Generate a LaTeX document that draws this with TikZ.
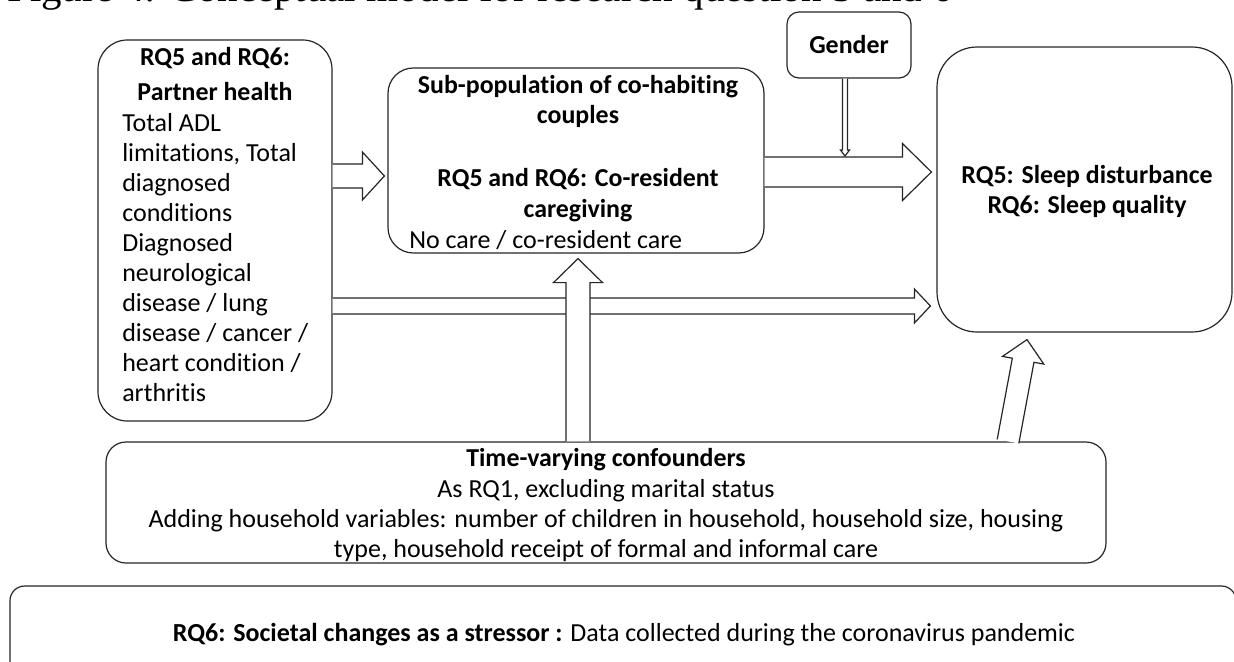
\documentclass[tikz,border=0pt]{standalone}
\usepackage{fontspec}
\setmainfont{Carlito}[Ligatures={TeX,NoCommon}]
\newfontfamily\titlefont{Liberation Serif}
\usetikzlibrary{calc}
\tikzset{
  box/.style={draw=black!85, line width=0.9pt, rounded corners=#1, fill=white, inner sep=0pt},
  box/.default=15pt,
  blk/.style={draw=black!85, line width=0.9pt, fill=white, line join=miter},
  txt/.style={inner sep=0pt, font=\fontsize{19.5}{23}\selectfont},
  btxt/.style={inner sep=0pt, font=\fontsize{19.4}{23}\selectfont\bfseries},
}
\newcommand\blockarrow[5]{%
  \coordinate (baH) at ($(#2)!#5!(#1)$);
  \filldraw[blk] ($(#1)!#3!90:(#2)$) -- ($(baH)!#3!90:(#2)$) -- ($(baH)!#4!90:(#2)$) -- (#2)
     -- ($(baH)!#4!-90:(#2)$) -- ($(baH)!#3!-90:(#2)$) -- ($(#1)!#3!-90:(#2)$);
}
\begin{document}
\begin{tikzpicture}[x=0.75pt,y=-0.75pt]
\useasboundingbox (0,0) rectangle (1234,661);
\clip (0,0) rectangle (1234,661);
\fill[white] (0,0) rectangle (1234,661);

% title, cut off at the top edge as in the reference
\node[anchor=base west, inner sep=0pt, font=\titlefont\fontsize{30.7}{34}\selectfont] (title) at (7,1)
  {Figure 4: Conceptual model for research question 5 and 6};

% boxes
\node[box=22pt, minimum width=175.5pt, minimum height=285.75pt] (partner) at (215,230.5) {};
\node[box=19pt, minimum width=282pt, minimum height=138.75pt] (subpop) at (576,160.5) {};
\node[box=9pt, minimum width=93pt, minimum height=49.5pt] (gender) at (849,45) {};
\node[box=30pt, minimum width=221.25pt, minimum height=213.75pt] (sleep) at (1084.5,189.5) {};
\node[box=15pt, minimum width=750pt, minimum height=90.75pt] (tv) at (606,502.5) {};
\node[box=11pt, minimum width=919.5pt, minimum height=85.5pt] (societal) at (623,643) {};

% helper coordinates
\coordinate (y176) at (0,176);
\coordinate (y172) at (0,172);
\coordinate (y306) at (0,306);
\coordinate (x578) at (578,0);
\coordinate (x1008) at (1008,0);
\coordinate (x1027) at (1027,0);
\coordinate (x845) at (845,0);
\coordinate (y156) at (0,156);

% arrows
\coordinate (a1s) at (partner.east |- y176);
\coordinate (a1e) at ($(subpop.west |- y176)+(-3,0)$);
\blockarrow{a1s}{a1e}{9pt}{18pt}{16.5pt}

\coordinate (a2s) at (subpop.east |- y172);
\coordinate (a2e) at ($(sleep.west |- y172)+(-5,0)$);
\blockarrow{a2s}{a2e}{11.25pt}{21.4pt}{21.75pt}

\coordinate (a3s) at (partner.east |- y306);
\coordinate (a3e) at ($(sleep.west |- y306)+(-6,0)$);
\blockarrow{a3s}{a3e}{6pt}{12.75pt}{12pt}

\coordinate (a4s) at (tv.north -| x578);
\coordinate (a4e) at ($(subpop.south -| x578)+(0,5)$);
\blockarrow{a4s}{a4e}{9pt}{18.4pt}{18pt}

\coordinate (a5s) at (tv.north -| x1008);
\coordinate (a5e) at ($(sleep.south -| x1027)+(0,7)$);
\blockarrow{a5s}{a5e}{8.25pt}{15.75pt}{15.75pt}

\coordinate (a6s) at (gender.south -| x845);
\coordinate (a6e) at (x845 |- y156);
\blockarrow{a6s}{a6e}{1.9pt}{3.4pt}{4.5pt}

% texts: partner health
\node[btxt, anchor=base] (ph1) at (215,65) {RQ5 and RQ6:};
\node[btxt, anchor=base] (ph2) at (215,100) {Partner health};
\foreach \t [count=\i from 0] in {Total ADL, {limitations, Total}, diagnosed, conditions, Diagnosed, neurological, {disease / lung}, {disease / cancer /}, {heart condition /}, arthritis}
  \node[txt, anchor=base west] (phl\i) at (122,131+30*\i) {\t};

% sub-population
\node[btxt, anchor=base] (sp1) at (578,93) {Sub-population of co-habiting};
\node[btxt, anchor=base] (sp2) at (578,123) {couples};
\node[btxt, anchor=base] (sp3) at (578,186) {RQ5 and RQ6: Co-resident};
\node[btxt, anchor=base] (sp4) at (578,217) {caregiving};
\node[txt, anchor=base west] (sp5) at (409,248) {No care / co-resident care};

% gender
\node[btxt, anchor=base] (gt) at (849,53) {Gender};

% sleep
\node[btxt, anchor=base] (sl1) at (1087,183) {RQ5: Sleep disturbance};
\node[btxt, anchor=base] (sl2) at (1087,213) {RQ6: Sleep quality};

% time-varying confounders
\node[btxt, anchor=base] (tv1) at (606,466) {Time-varying confounders};
\node[txt, anchor=base] (tv2) at (606,497) {As RQ1, excluding marital status};
\node[txt, anchor=base] (tv3) at (606,527) {Adding household variables: number of children in household, household size, housing};
\node[txt, anchor=base] (tv4) at (606,557) {type, household receipt of formal and informal care};

% societal
\node[txt, anchor=base] (soc) at (624,641) {\textbf{RQ6: Societal changes as a stressor :} Data collected during the coronavirus pandemic};
\end{tikzpicture}
\end{document}
